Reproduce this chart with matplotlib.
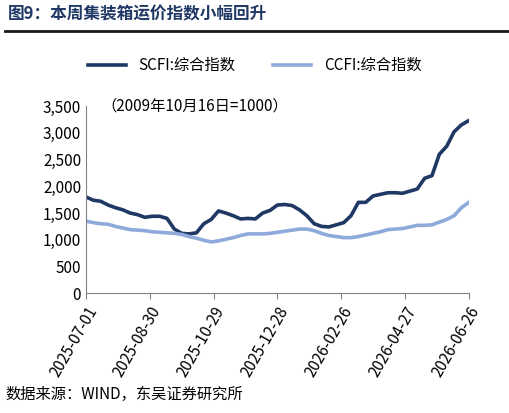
import matplotlib
matplotlib.use("Agg")
import matplotlib.pyplot as plt
import pandas as pd

plt.rcParams['font.family'] = ['Noto Sans CJK SC', 'DejaVu Sans']

scfi = [1800,1740,1720,1650,1600,1560,1500,1470,1420,1440,1440,1400,1200,1120,1110,1130,1300,1380,1540,1500,
        1450,1390,1400,1390,1500,1550,1650,1660,1640,1560,1450,1300,1250,1240,1280,1320,1450,1700,1700,1820,
        1850,1880,1880,1870,1910,1950,2150,2200,2600,2750,3020,3150,3230]
ccfi = [1350,1320,1300,1290,1250,1220,1190,1180,1170,1150,1140,1130,1120,1100,1060,1030,990,960,980,1010,
        1040,1080,1110,1110,1110,1120,1140,1160,1180,1200,1200,1170,1120,1080,1060,1040,1040,1060,1090,1120,
        1150,1190,1200,1210,1240,1270,1270,1280,1330,1380,1450,1600,1700]
dates = pd.date_range('2025-07-01', '2026-06-26', periods=len(scfi))
tick_labels = ['2025-07-01','2025-08-30','2025-10-29','2025-12-28','2026-02-26','2026-04-27','2026-06-26']

fig = plt.figure(figsize=(5.09, 4.13), dpi=100)
ax = fig.add_axes([0.169, 0.29, 0.752, 0.453])
ax.plot(dates, scfi, color='#1f3864', lw=2.6, label='SCFI:综合指数')
ax.plot(dates, ccfi, color='#8eaadb', lw=2.6, label='CCFI:综合指数')
ax.set_ylim(0, 3500)
ax.set_yticks(range(0, 3501, 500))
ax.yaxis.set_major_formatter(matplotlib.ticker.FuncFormatter(lambda v, p: f'{int(v):,}'))
ticks = pd.to_datetime(tick_labels)
ax.set_xlim(ticks[0], ticks[-1])
ax.set_xticks(ticks)
ax.set_xticklabels(tick_labels, rotation=60, ha='right', rotation_mode='anchor')
for s in ['top', 'right']:
    ax.spines[s].set_visible(False)
ax.spines['left'].set_color('#808080')
ax.spines['bottom'].set_color('#808080')
ax.tick_params(axis='y', length=0, labelsize=11)
ax.tick_params(axis='x', direction='out', length=4, color='#808080', labelsize=11)
ax.text(0.04, 1.0, '（2009年10月16日=1000）', transform=ax.transAxes, fontsize=11, va='center')
fig.legend(loc='upper center', bbox_to_anchor=(0.5, 0.895), ncol=2, frameon=False, fontsize=11,
           handlelength=2.5, columnspacing=2.5)
fig.text(0.015, 0.965, '图9：本周集装箱运价指数小幅回升', fontsize=12, fontweight='bold', color='#1f3864', va='center')
fig.add_artist(plt.Line2D([0.01, 1.0], [0.925, 0.925], color='#1a1a1a', lw=2))
fig.text(0.01, 0.045, '数据来源：WIND，东吴证券研究所', fontsize=11, va='center')
fig.savefig('out.png', dpi=100)
